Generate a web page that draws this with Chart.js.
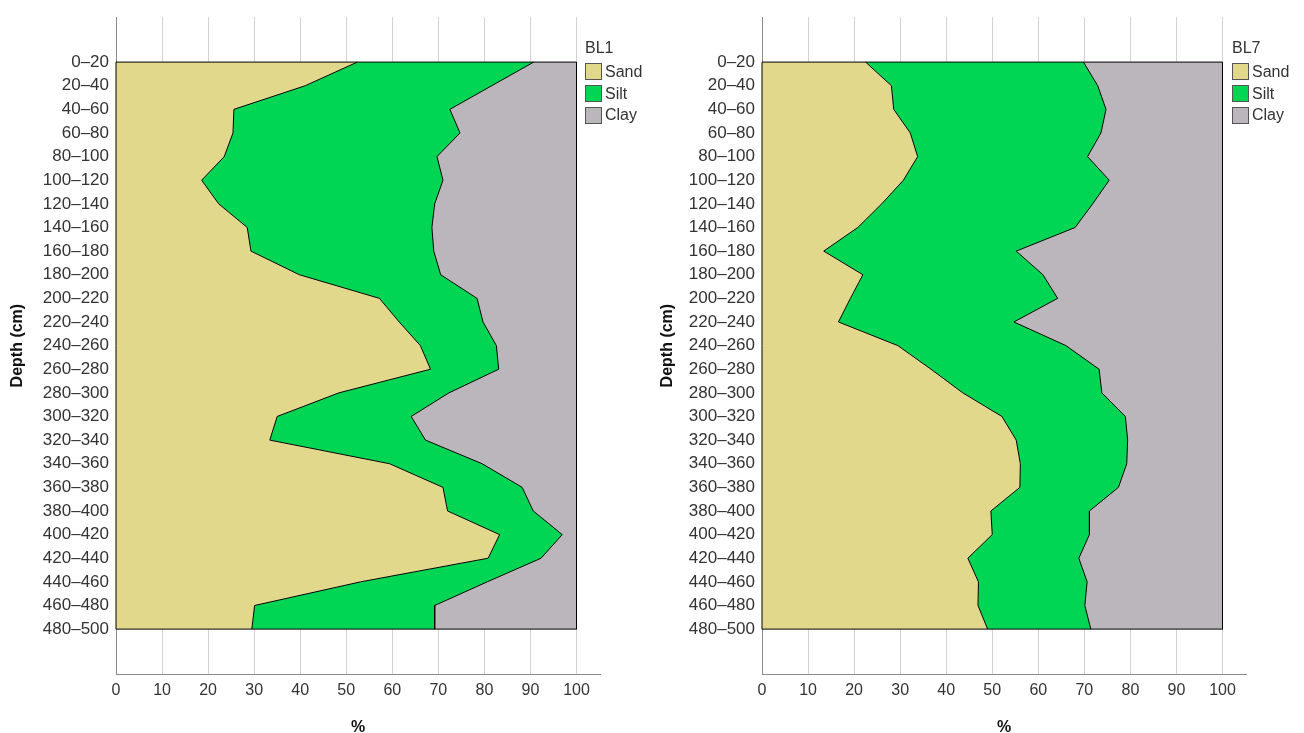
<!DOCTYPE html>
<html>
<head>
<meta charset="utf-8">
<script src="https://cdn.jsdelivr.net/npm/chart.js@4.4.1/dist/chart.umd.min.js"></script>
<style>
  html, body { margin: 0; padding: 0; background: #fff; }
  body { width: 1304px; height: 733px; position: relative; overflow: hidden; font-family: "Liberation Sans", Arial, sans-serif; }
  .panel { position: absolute; top: 0; height: 733px; }
  .legend { position: absolute; font-family: "Liberation Sans", Arial, sans-serif; font-size: 16px; color: #333; line-height: 1; }
  .legend .ttl { height: 18px; margin-bottom: 3px; }
  .legend .row { display: flex; align-items: center; height: 21.7px; }
  .legend .box { width: 15px; height: 15px; border: 1px solid #555; margin-right: 3px; box-sizing: content-box; }
</style>
</head>
<body>
<div class="panel" style="left:0;width:650px;"><canvas id="c1" width="650" height="733"></canvas></div>
<div class="panel" style="left:650px;width:654px;"><canvas id="c2" width="654" height="733"></canvas></div>
<div class="legend" id="lg1" style="left:585px;top:40px;"></div>
<div class="legend" id="lg2" style="left:1232px;top:40px;"></div>
<script>
// ---- Data ----
const depthLabels = ['0–20','20–40','40–60','60–80','80–100','100–120','120–140','140–160','160–180','180–200',
  '200–220','220–240','240–260','260–280','280–300','300–320','320–340','340–360','360–380','380–400',
  '400–420','420–440','440–460','460–480','480–500'];
const seriesNames = ['Sand', 'Silt', 'Clay'];
const xTickValues = [0, 10, 20, 30, 40, 50, 60, 70, 80, 90, 100];

// BL1
const bl1Sand = [52.4, 41.1, 25.6, 25.4, 23.5, 18.6, 22.3, 28.5, 29.3, 39.8, 57.2, 61.5, 66.1, 68.3, 48.4, 35.0, 33.4, 59.4, 71.0, 72.0, 83.3, 80.8, 53.1, 30.1, 29.5];
const bl1Silt = [38.3, 40.5, 46.9, 49.3, 46.2, 52.4, 46.9, 40.1, 39.7, 30.7, 21.2, 18.2, 16.5, 14.8, 23.9, 29.1, 33.8, 20.1, 17.2, 18.6, 13.6, 11.5, 27.5, 39.1, 39.7];
const bl1Clay = [9.3, 18.4, 27.5, 25.3, 30.3, 29.0, 30.8, 31.4, 31.0, 29.5, 21.6, 20.3, 17.4, 16.9, 27.7, 35.9, 32.8, 20.5, 11.8, 9.4, 3.1, 7.7, 19.4, 30.8, 30.8];

// BL7
const bl7Sand = [22.5, 28.1, 28.6, 32.2, 33.8, 30.7, 26.0, 20.8, 13.4, 21.9, 19.2, 16.6, 29.5, 36.7, 43.6, 52.1, 55.2, 56.1, 56.0, 49.7, 50.0, 44.7, 47.0, 46.9, 49.0];
const bl7Silt = [47.3, 44.8, 46.1, 41.4, 36.9, 44.7, 45.8, 47.2, 41.8, 39.1, 45.0, 38.1, 36.5, 36.5, 30.2, 26.8, 24.2, 23.1, 21.4, 21.4, 21.1, 24.1, 23.6, 23.2, 22.4];
const bl7Clay = [30.2, 27.1, 25.3, 26.4, 29.3, 24.6, 28.2, 32.0, 44.8, 39.0, 35.8, 45.3, 34.0, 26.8, 26.2, 21.1, 20.6, 20.8, 22.6, 28.9, 28.9, 31.2, 29.4, 29.9, 28.6];

const colors = ['rgb(226,216,139)', 'rgb(0,214,84)', 'rgb(186,182,188)'];
const FONT = '"Liberation Sans", Arial, sans-serif';
const TEXT = '#333';

const outlinePlugin = {
  id: 'outline',
  afterDatasetsDraw(chart) {
    const {ctx, scales: {x, y}} = chart;
    const x0 = x.getPixelForValue(0), x1 = x.getPixelForValue(100);
    const y0 = y.getPixelForValue(0), y1 = y.getPixelForValue(depthLabels.length - 1);
    ctx.save();
    ctx.strokeStyle = '#000';
    ctx.lineWidth = 1;
    ctx.beginPath();
    ctx.moveTo(x0, y0); ctx.lineTo(x1, y0);
    ctx.moveTo(x0, y1); ctx.lineTo(x1, y1);
    ctx.moveTo(x0, y0); ctx.lineTo(x0, y1);
    ctx.stroke();
    ctx.restore();
  }
};

function makeChart(id, sand, silt, clay, yWidth, padRight) {
  const series = [sand, silt, clay];
  const datasets = series.map((vals, k) => ({
    label: seriesNames[k],
    data: vals.map((v, i) => ({x: v, y: i})),
    backgroundColor: colors[k],
    borderColor: '#000',
    borderWidth: 1,
    pointRadius: 0,
    tension: 0,
    fill: k === 0 ? 'origin' : '-1'
  }));
  const pad = 1.9;
  return new Chart(document.getElementById(id), {
    type: 'line',
    data: { datasets },
    options: {
      responsive: false,
      animation: false,
      indexAxis: 'y',
      layout: { padding: { top: 14, right: padRight, bottom: 0, left: 0 } },
      plugins: { legend: { display: false }, tooltip: { enabled: false } },
      scales: {
        x: {
          type: 'linear', stacked: true, min: 0, max: 105.1,
          afterBuildTicks: (s) => { s.ticks = xTickValues.map(v => ({value: v})); },
          afterFit: (s) => { s.height = 59; },
          grid: { color: '#d2d2d2', lineWidth: 1, drawTicks: false },
          border: { color: '#8a8a8a', width: 1 },
          ticks: { padding: 7, color: TEXT, font: { family: FONT, size: 16 }, maxRotation: 0 },
          title: { display: true, text: '%', color: '#111', font: { family: FONT, size: 16, weight: 'bold' }, padding: { top: 0, bottom: -4 } }
        },
        y: {
          type: 'linear', reverse: true, min: -pad, max: depthLabels.length - 1 + pad,
          afterBuildTicks: (s) => { s.ticks = depthLabels.map((_, i) => ({value: i})); },
          afterFit: (s) => { s.width = yWidth; },
          grid: { color: 'rgba(0,0,0,0)', drawTicks: false },
          border: { color: '#8a8a8a', width: 1 },
          ticks: { padding: 7, color: TEXT, font: { family: FONT, size: 17 }, autoSkip: false,
            callback: (v) => depthLabels[v] },
          title: { display: true, text: 'Depth (cm)', color: '#111', font: { family: FONT, size: 16, weight: 'bold' }, padding: { top: 8, bottom: 0 } }
        }
      }
    },
    plugins: [outlinePlugin]
  });
}

function makeLegend(id, title) {
  const el = document.getElementById(id);
  let html = '<div class="ttl">' + title + '</div>';
  seriesNames.forEach((n, k) => {
    html += '<div class="row"><span class="box" style="background:' + colors[k] + '"></span><span>' + n + '</span></div>';
  });
  el.innerHTML = html;
}

makeChart('c1', bl1Sand, bl1Silt, bl1Clay, 116, 50);
makeChart('c2', bl7Sand, bl7Silt, bl7Clay, 112, 58);
makeLegend('lg1', 'BL1');
makeLegend('lg2', 'BL7');
</script>
</body>
</html>
